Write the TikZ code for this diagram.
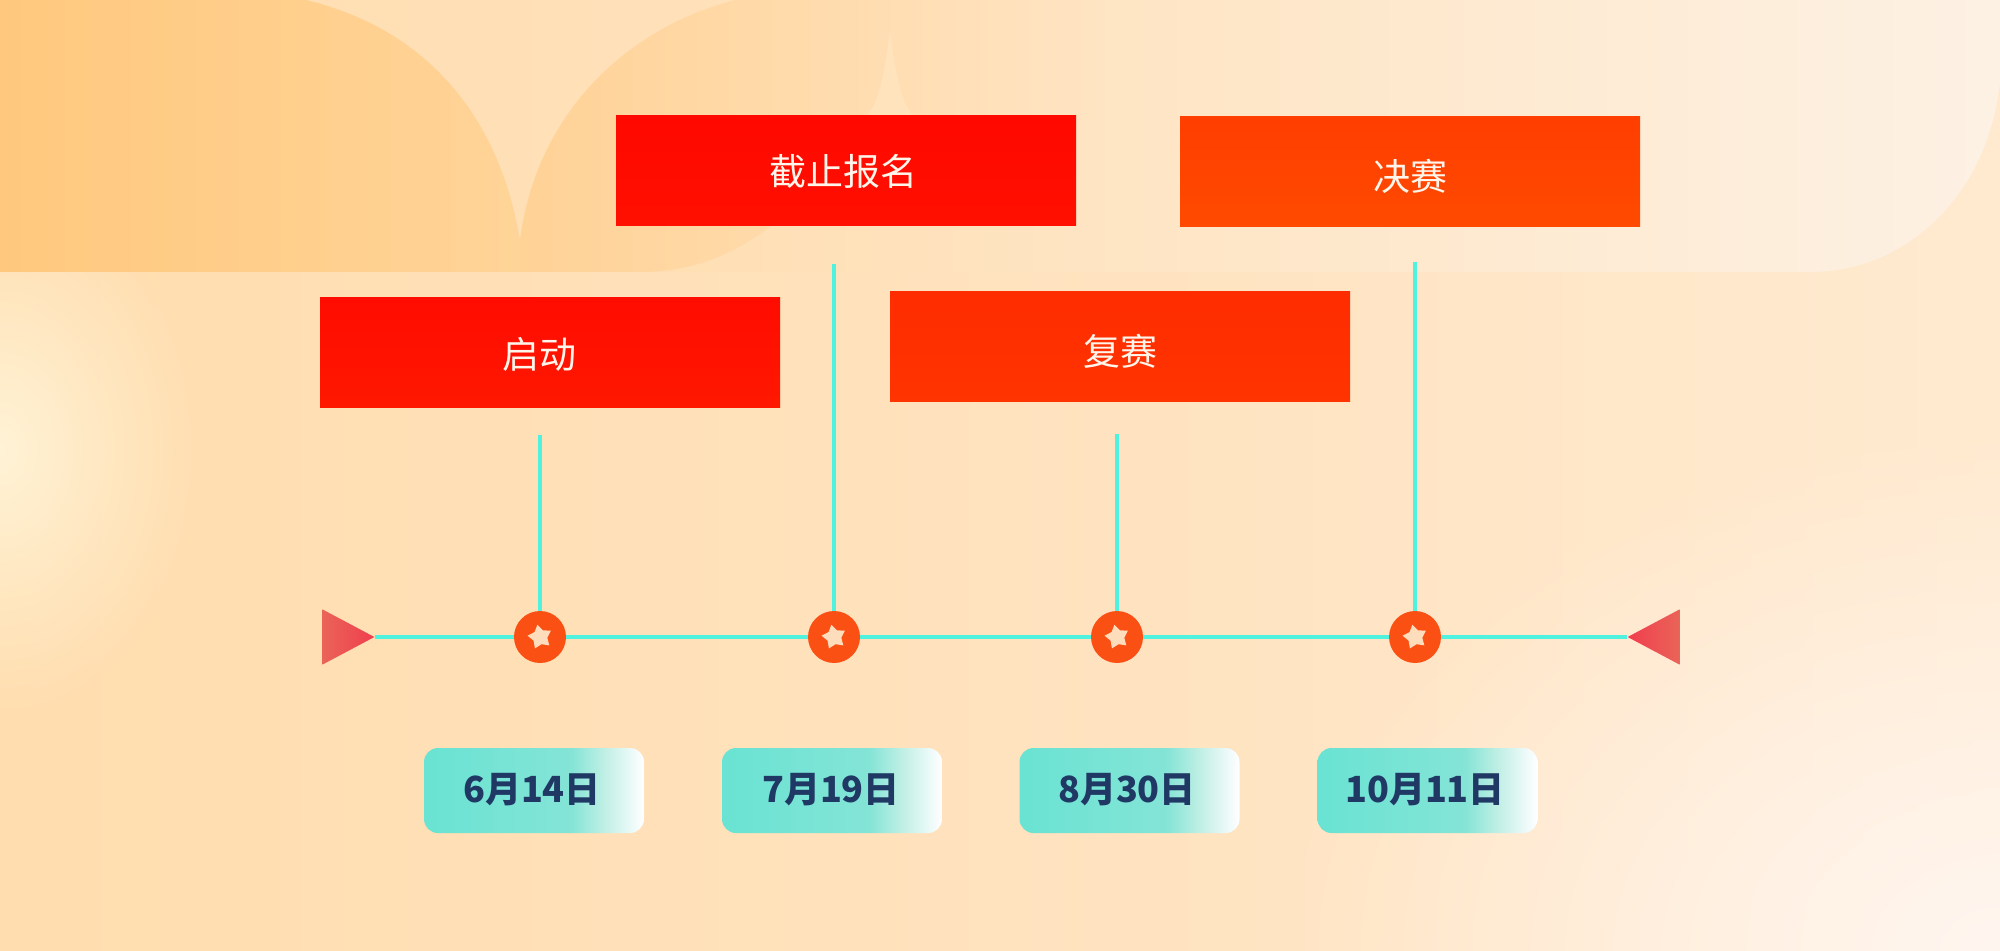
\documentclass[tikz,border=0pt]{standalone}
\usepackage{fontspec}
\setmainfont{Noto Sans CJK SC}
\usetikzlibrary{fadings,shapes.geometric}
\tikzfading[name=glowf, inner color=transparent!0, outer color=transparent!100]
\definecolor{cyanline}{HTML}{4FF2DE}
\definecolor{dotc}{HTML}{FB5014}
\definecolor{navy}{HTML}{1F3864}
\definecolor{teal0}{HTML}{69E3D3}
\definecolor{teal1}{HTML}{84E4D6}
\definecolor{teal2}{HTML}{C0EFE5}
\definecolor{teal3}{HTML}{EEFAF9}
\definecolor{starc}{HTML}{FDDDBB}
\pgfdeclarehorizontalshading{datesh}{100bp}{color(0bp)=(teal0); color(25bp)=(teal0); color(58.5bp)=(teal1); color(66bp)=(teal2); color(72.5bp)=(teal3); color(75bp)=(white); color(100bp)=(white)}
\tikzset{
 stagebox/.style={rectangle,minimum width=230pt,minimum height=55pt,inner sep=0pt},
 stagetext/.style={text=white!92!orange,inner sep=0pt,font=\fontsize{18.5pt}{22pt}\selectfont},
 datebox/.style={rectangle,rounded corners=7pt,minimum width=110pt,minimum height=42.5pt,inner sep=0pt,shading=datesh},
 datetext/.style={text=navy,inner sep=0pt,font=\fontsize{18pt}{20pt}\selectfont\bfseries},
 dot/.style={circle,fill=dotc,minimum size=26pt,inner sep=0pt},
 staricon/.style={star,star points=5,star point ratio=1.7,fill=starc,minimum size=12.5pt,inner sep=0pt,rotate=12},
 conn/.style={cyanline,line width=2.3pt},
 endtri/.style={isosceles triangle,isosceles triangle apex angle=56,minimum height=26pt,inner sep=0pt}
}
\begin{document}
\begin{tikzpicture}[x=0.5pt,y=-0.5pt]
\useasboundingbox (0,0) rectangle (2000,951);
% background
\shade[left color={rgb,255:red,255;green,221;blue,174},right color={rgb,255:red,255;green,234;blue,208},middle color={rgb,255:red,255;green,226;blue,190}] (0,0) rectangle (2000,951);
\fill[color={rgb,255:red,255;green,243;blue,214},path fading=glowf] (0,450) ellipse (200 and 270);
\fill[color={rgb,255:red,255;green,246;blue,240},path fading=glowf] (2000,951) ellipse (720 and 520);
% top band
\shade[left color={rgb,255:red,255;green,222;blue,178},right color={rgb,255:red,253;green,241;blue,228}]
 (740,0) -- (2000,0) -- (2000,80) .. controls (1990,190) and (1910,272) .. (1810,272) -- (640,272) -- cycle;
\shade[left color={rgb,255:red,255;green,210;blue,150},right color={rgb,255:red,255;green,228;blue,195}]
 (520,240) .. controls (535,120) and (620,30) .. (735,0) -- (1100,0) -- (1100,116) -- (800,200) .. controls (760,240) and (710,272) .. (640,272) -- (520,272) -- cycle;
\fill[color={rgb,255:red,255;green,227;blue,188}] (890,30) .. controls (885,70) and (880,100) .. (867,116) -- (913,116) .. controls (900,100) and (895,70) .. (890,30) -- cycle;
\shade[left color={rgb,255:red,255;green,200;blue,126},right color={rgb,255:red,255;green,212;blue,152}]
 (0,0) -- (306,0) .. controls (430,30) and (500,120) .. (520,240) -- (520,272) -- (0,272) -- cycle;
% stage boxes
\node[stagebox,top color={rgb,255:red,255;green,12;blue,0},bottom color={rgb,255:red,255;green,24;blue,0}] (s1) at (550,353) {};
\node[stagebox,top color={rgb,255:red,255;green,8;blue,0},bottom color={rgb,255:red,255;green,16;blue,0}] (s2) at (846,171) {};
\node[stagebox,top color={rgb,255:red,255;green,44;blue,0},bottom color={rgb,255:red,255;green,52;blue,0}] (s3) at (1120,347) {};
\node[stagebox,top color={rgb,255:red,255;green,62;blue,0},bottom color={rgb,255:red,255;green,74;blue,0}] (s4) at (1410,172) {};
\node[stagetext] (t1) at (539,354) {启动};
\node[stagetext] (t2) at (843,171) {截止报名};
\node[stagetext] (t3) at (1120,351) {复赛};
\node[stagetext] (t4) at (1410,176) {决赛};
% timeline
\coordinate (a1) at (540,435);
\coordinate (a2) at (834,264);
\coordinate (a3) at (1117,434);
\coordinate (a4) at (1415,262);
\node[dot] (d1) at (540,637) {};
\node[dot] (d2) at (834,637) {};
\node[dot] (d3) at (1117,637) {};
\node[dot] (d4) at (1415,637) {};
\node[endtri,left color={rgb,255:red,234;green,100;blue,88},right color={rgb,255:red,240;green,62;blue,78}] (L) at (339,637) {};
\node[endtri,shape border rotate=180,right color={rgb,255:red,234;green,100;blue,88},left color={rgb,255:red,240;green,62;blue,78}] (R) at (1663,637) {};
\draw[conn] (a1) -- (d1);
\draw[conn] (a2) -- (d2);
\draw[conn] (a3) -- (d3);
\draw[conn] (a4) -- (d4);
\draw[conn] (L.apex) -- (d1);
\draw[conn] (d1) -- (d2);
\draw[conn] (d2) -- (d3);
\draw[conn] (d3) -- (d4);
\draw[conn] (d4) -- (R.apex);
\node[staricon] (c1) at (d1) {};
\node[staricon] (c2) at (d2) {};
\node[staricon] (c3) at (d3) {};
\node[staricon] (c4) at (d4) {};
% dates
\node[datebox] (b1) at (534,790.5) {};
\node[datebox] (b2) at (832,790.5) {};
\node[datebox] (b3) at (1129.5,790.5) {};
\node[datebox] (b4) at (1427.5,790.5) {};
\node[datetext] (e1) at (532,790) {6月14日};
\node[datetext] (e2) at (831,790) {7月19日};
\node[datetext] (e3) at (1127,790) {8月30日};
\node[datetext] (e4) at (1425,790) {10月11日};
\end{tikzpicture}
\end{document}
